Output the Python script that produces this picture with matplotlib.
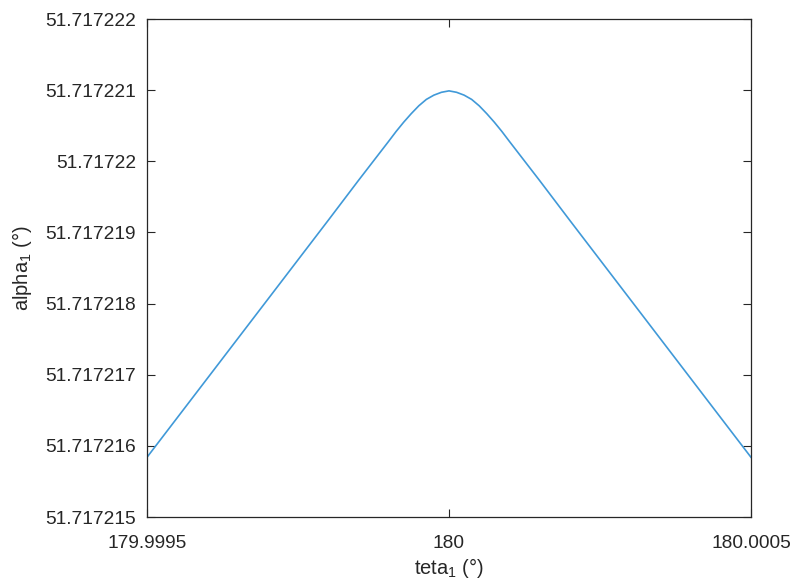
import matplotlib
matplotlib.use('Agg')
import matplotlib.pyplot as plt

# === datos ===
teta = [179.9995, 179.9996, 179.9997, 179.9998, 179.99985, 179.9999,
        179.9999125, 179.999925, 179.9999375, 179.99995, 179.9999625,
        179.999975, 179.9999875, 180.0,
        180.0000125, 180.000025, 180.0000375, 180.00005, 180.0000625,
        180.000075, 180.0000875, 180.0001, 180.00015, 180.0002,
        180.0003, 180.0004, 180.0005]
alpha = [51.71721584, 51.71721695, 51.71721806, 51.71721917, 51.71721973,
         51.71722028, 51.71722042, 51.71722055, 51.71722067, 51.71722078,
         51.71722087, 51.71722093, 51.71722097, 51.71722099,
         51.71722097, 51.71722093, 51.71722087, 51.71722078, 51.71722067,
         51.71722055, 51.71722042, 51.71722028, 51.71721973, 51.71721917,
         51.71721806, 51.71721695, 51.71721584]

yticks = [51.717215, 51.717216, 51.717217, 51.717218, 51.717219,
          51.71722, 51.717221, 51.717222]
xticks = [179.9995, 180.0, 180.0005]

plt.rcParams['font.family'] = ['Liberation Sans', 'DejaVu Sans']
plt.rcParams['mathtext.fontset'] = 'custom'
plt.rcParams['mathtext.rm'] = 'Liberation Sans'
plt.rcParams['mathtext.it'] = 'Liberation Sans'
plt.rcParams['mathtext.default'] = 'regular'

gris = '#262626'
fig = plt.figure(figsize=(7.9, 5.85), dpi=100)
ax = fig.add_axes([0.1861, 0.1162, 0.7645, 0.8513])

ax.plot(teta, alpha, color='#4099d8', linewidth=1.2)

ax.set_xlim(179.9995, 180.0005)
ax.set_ylim(51.717215, 51.717222)
ax.set_xticks(xticks)
ax.set_xticklabels(['%.7g' % v for v in xticks])
ax.set_yticks(yticks)
ax.set_yticklabels(['%.8g' % v for v in yticks])

ax.tick_params(direction='in', length=6, width=0.8, colors=gris,
               top=True, right=True, labelsize=13.8)
ax.tick_params(axis='x', pad=13)
ax.tick_params(axis='y', pad=8)
for s in ax.spines.values():
    s.set_color(gris)
    s.set_linewidth(0.9)

ax.set_xlabel('teta$_{1}$ (°)', fontsize=14.5, color=gris, labelpad=3)
ax.set_ylabel('alpha$_{1}$ (°)', fontsize=14.5, color=gris, labelpad=8)

fig.savefig('out.png', dpi=100)
